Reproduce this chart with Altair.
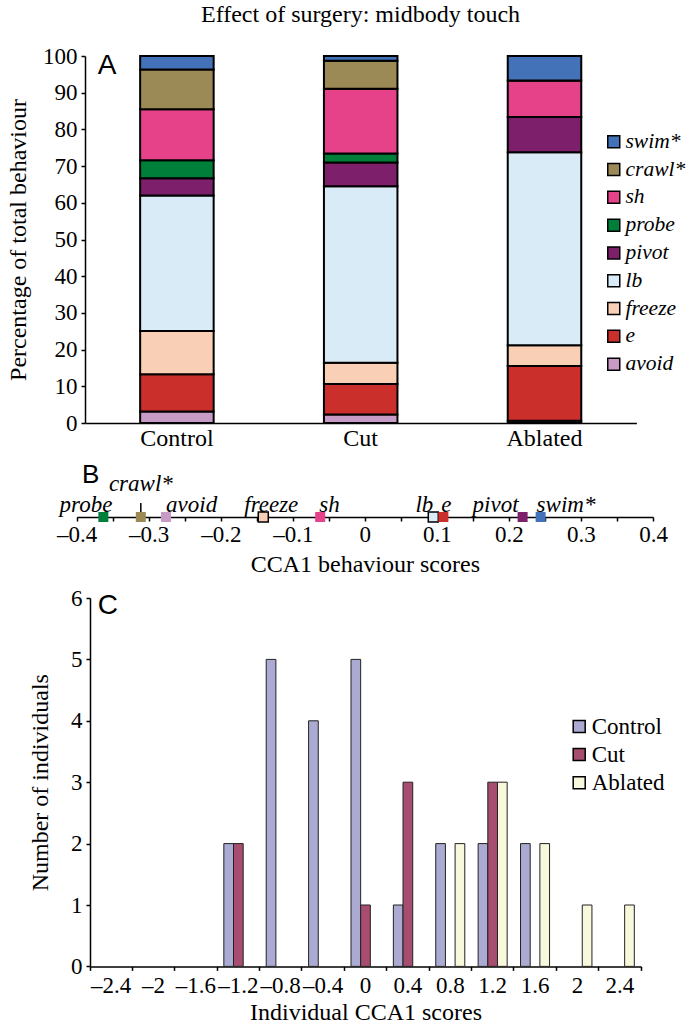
import altair as alt
import pandas as pd

TITLE = "Effect of surgery: midbody touch"
SERIF = "'Liberation Serif', 'Times New Roman', 'DejaVu Serif', serif"
SANS = "'Liberation Sans', Arial, 'DejaVu Sans', sans-serif"

# ---------------- Panel A data ----------------
groups = ["Control", "Cut", "Ablated"]
behaviours = ["avoid", "e", "freeze", "lb", "pivot", "probe", "sh", "crawl*", "swim*"]  # bottom -> top
pct_control = [3.1, 10.2, 11.8, 36.9, 4.7, 4.9, 13.9, 10.8, 3.7]
pct_cut = [2.3, 8.3, 5.8, 48.1, 6.5, 2.4, 17.7, 7.6, 1.3]
pct_ablated = [0.6, 14.9, 5.7, 52.6, 9.6, 0.0, 9.9, 0.0, 6.7]
behaviour_colors = ["#c89ac6", "#cb2f2c", "#f9cfb6", "#d9ebf6", "#7d1f6b",
                    "#007f3a", "#e6428a", "#9c8a56", "#4472b8"]

# ---------------- Panel B data ----------------
b_names = ["probe", "crawl*", "avoid", "freeze", "sh", "lb", "e", "pivot", "swim*"]
b_scores = [-0.363, -0.311, -0.276, -0.141, -0.062, 0.095, 0.109, 0.219, 0.244]
b_ticks = [round(-0.4 + 0.05 * i, 2) for i in range(17)]

# ---------------- Panel C data ----------------
bins = ["\u20132.4", "\u20132", "\u20131.6", "\u20131.2", "\u20130.8", "\u20130.4",
        "0", "0.4", "0.8", "1.2", "1.6", "2", "2.4"]
n_control = [0, 0, 0, 2, 5, 4, 5, 1, 2, 2, 2, 0, 0]
n_cut = [0, 0, 0, 2, 0, 0, 1, 3, 0, 3, 0, 0, 0]
n_ablated = [0, 0, 0, 0, 0, 0, 0, 0, 2, 3, 2, 1, 1]
group_colors = ["#aaaad2", "#a64d70", "#f8f8dc"]

# ---------------- build tables ----------------
rowsA = []
for g, vals in zip(groups, [pct_control, pct_cut, pct_ablated]):
    for i, (b, v) in enumerate(zip(behaviours, vals)):
        rowsA.append({"group": g, "behaviour": b, "pct": v, "idx": i})
dfA = pd.DataFrame(rowsA)
legend_order = behaviours[::-1]
color_map = dict(zip(behaviours, behaviour_colors))
beh_scale = alt.Scale(domain=legend_order, range=[color_map[b] for b in legend_order])

dfB = pd.DataFrame({"behaviour": b_names, "score": b_scores})

rowsC = []
for g, vals in zip(groups, [n_control, n_cut, n_ablated]):
    for b, v in zip(bins, vals):
        if v > 0:
            rowsC.append({"grp": g, "bin": b, "n": v})
dfC = pd.DataFrame(rowsC)

AX = dict(domainColor="black", domainWidth=1.5, tickColor="black", tickWidth=1.5,
          labelFont=SERIF, labelColor="black", titleFont=SERIF, titleColor="black",
          titleFontWeight="normal", grid=False)

# ---------------- Panel A ----------------
WA, HA = 551, 367
barsA = alt.Chart(dfA).mark_bar(stroke="black", strokeWidth=2).encode(
    x=alt.X("group:N", sort=groups,
            scale=alt.Scale(range=[-5, 546.4], paddingInner=0.6, paddingOuter=0.3),
            axis=alt.Axis(title=None, ticks=False, labelAngle=0, labelFontSize=24,
                          labelPadding=3, **AX)),
    y=alt.Y("pct:Q", stack="zero", scale=alt.Scale(domain=[0, 100], nice=False),
            axis=alt.Axis(title="Percentage of total behaviour", values=list(range(0, 101, 10)),
                          offset=5, tickSize=4, labelPadding=4, labelFontSize=23,
                          titleFontSize=24, titlePadding=12, **AX)),
    color=alt.Color("behaviour:N", scale=beh_scale,
                    legend=alt.Legend(title=None, orient="none", legendX=513, legendY=75,
                                      padding=0, symbolType="square", symbolSize=144,
                                      symbolStrokeColor="black", symbolStrokeWidth=1.5,
                                      labelFont=SERIF, labelFontStyle="italic",
                                      labelFontSize=21.5, labelColor="black",
                                      rowPadding=4.8, labelOffset=1)),
    order=alt.Order("idx:Q", sort="ascending"),
)
letterA = alt.Chart(pd.DataFrame({"t": ["A"]})).mark_text(
    font=SANS, fontSize=28, align="left", baseline="alphabetic", color="black"
).encode(text="t:N", x=alt.value(7.7), y=alt.value(17.7))
chartA = alt.layer(barsA, letterA).properties(
    width=WA, height=HA,
    title=alt.TitleParams(TITLE, font=SERIF, fontSize=24, fontWeight="normal",
                          color="black", anchor="middle", dx=-5, offset=18),
)

# ---------------- Panel B ----------------
HB = 56
xB = alt.X("score:Q", scale=alt.Scale(domain=[-0.4, 0.4], range=[-13.3, 563], nice=False, zero=False),
           axis=alt.Axis(values=b_ticks, tickSize=4, labelFontSize=23, labelPadding=2,
                         labelFlush=False,
                         labelExpr="abs(datum.value*10 - round(datum.value*10)) < 0.001 ? "
                                   "replace(format(datum.value, '~g'), '\u2212', '\u2013') : ''",
                         title="CCA1 behaviour scores", titleFontSize=24, titlePadding=6, **AX))
baseB = alt.Chart(dfB)
squares = baseB.mark_square(size=100, opacity=1, stroke="black").encode(
    x=xB, y=alt.value(HB),
    color=alt.Color("behaviour:N", scale=beh_scale, legend=None),
    strokeWidth=alt.condition(alt.FieldOneOfPredicate(field="behaviour", oneOf=["lb", "freeze"]),
                              alt.value(1.5), alt.value(0)),
)
label_style = {
    "probe": ("right", 9, -5), "crawl*": ("center", 0, -26), "avoid": ("left", 0, -5),
    "freeze": ("center", 8, -5), "sh": ("left", -1, -5), "lb": ("right", 0, -5),
    "e": ("left", -2, -5), "pivot": ("right", -4, -5), "swim*": ("left", -4, -5),
}
label_layers = []
for name, (al, dx, dy) in label_style.items():
    label_layers.append(
        baseB.transform_filter(alt.FieldEqualPredicate(field="behaviour", equal=name))
        .mark_text(font=SERIF, fontStyle="italic", fontSize=23, align=al, dx=dx, dy=dy,
                   baseline="alphabetic", color="black")
        .encode(x=xB, y=alt.value(HB), text="behaviour:N")
    )
leader = baseB.transform_filter(alt.FieldEqualPredicate(field="behaviour", equal="crawl*")).mark_rule(
    color="black", strokeWidth=1.5).encode(x=xB, y=alt.value(HB - 5), y2=alt.value(HB - 14))
letterB = alt.Chart(pd.DataFrame({"t": ["B"]})).mark_text(
    font=SANS, fontSize=26, align="left", baseline="alphabetic", color="black"
).encode(text="t:N", x=alt.value(-8), y=alt.value(HB - 34.3))
chartB = alt.layer(leader, squares, *label_layers, letterB).properties(width=551, height=HB)

# ---------------- Panel C ----------------
WC, HC = 551, 368.4
barsC = alt.Chart(dfC).mark_bar(stroke="#222222", strokeWidth=1).encode(
    x=alt.X("bin:N", sort=bins, scale=alt.Scale(domain=bins, paddingInner=0, paddingOuter=0),
            axis=alt.Axis(title="Individual CCA1 scores", bandPosition=1, tickExtra=True,
                          labelAngle=0, tickSize=4, labelFontSize=23, labelPadding=4,
                          titleFontSize=24, titlePadding=3, **AX)),
    xOffset=alt.XOffset("grp:N", sort=groups,
                        scale=alt.Scale(domain=groups, paddingInner=0, paddingOuter=0.69)),
    y=alt.Y("n:Q", scale=alt.Scale(domain=[0, 6], nice=False),
            axis=alt.Axis(title="Number of individuals", values=list(range(0, 7)), tickSize=4,
                          labelPadding=4, labelFontSize=23, titleFontSize=24, titlePadding=18, **AX)),
    color=alt.Color("grp:N", scale=alt.Scale(domain=groups, range=group_colors),
                    legend=alt.Legend(title=None, orient="none", legendX=477.7, legendY=117,
                                      padding=0, symbolType="square", symbolSize=144,
                                      symbolStrokeColor="black", symbolStrokeWidth=1.5,
                                      labelFont=SERIF, labelFontSize=23, labelColor="black",
                                      rowPadding=4.1, labelOffset=1)),
)
letterC = alt.Chart(pd.DataFrame({"t": ["C"]})).mark_text(
    font=SANS, fontSize=28, align="left", baseline="alphabetic", color="black"
).encode(text="t:N", x=alt.value(7.7), y=alt.value(15.7))
chartC = alt.layer(barsC, letterC).properties(width=WC, height=HC)

chart = alt.vconcat(chartA, chartB, chartC, spacing=11).resolve_scale(
    x="independent", y="independent", color="independent"
).resolve_legend(color="independent").properties(
    padding={"left": 6, "top": 3, "right": 0, "bottom": 0}
).configure(
    font=SERIF, background="white"
).configure_view(strokeWidth=0)

chart.save("out.html", embed_options={"renderer": "svg", "actions": False})
